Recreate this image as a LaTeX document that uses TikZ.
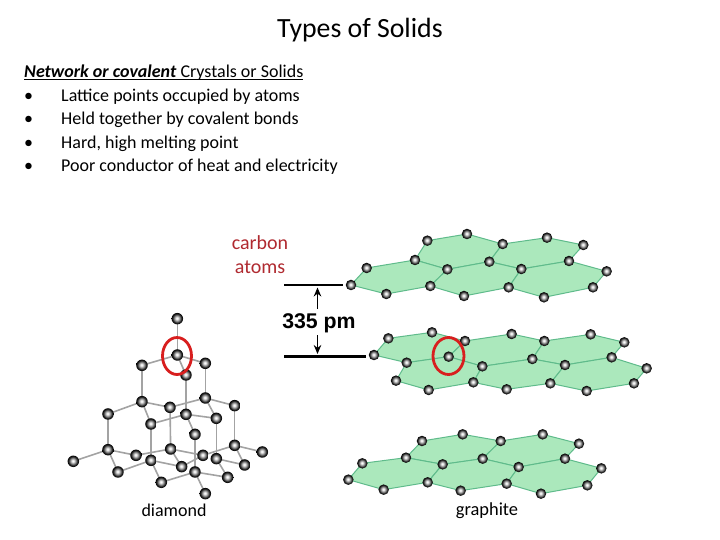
\documentclass[tikz,border=0pt]{standalone}
\usepackage{fontspec}
\usetikzlibrary{arrows.meta,shapes.geometric}
\setmainfont{Carlito}
\newfontfamily\labelfont{Liberation Sans}
\pgfdeclareradialshading{atomshade}{\pgfpoint{-2bp}{2bp}}{
  color(0bp)=(white); color(5bp)=(white!90!black); color(13bp)=(black!50); color(20bp)=(black!90); color(25bp)=(black); color(100bp)=(black)}
\definecolor{sheet}{HTML}{ABE8BC}
\definecolor{sheetedge}{HTML}{5FBB8B}
\definecolor{bondgray}{HTML}{A3A3A3}
\definecolor{ringred}{HTML}{D81E1E}
\definecolor{carbontext}{HTML}{B02A30}
\tikzset{
  x=1pt,y=-1pt,
  atom/.style={circle,inner sep=0pt,minimum size=10.5pt,shading=atomshade},
  datom/.style={atom,minimum size=11.5pt},
  bond/.style={draw=bondgray,line width=1.6pt},
  ring/.style={draw=ringred,line width=2.8pt},
  level/.style={line width=2.8pt},
  gap/.style={line width=1.6pt,-{Stealth[length=9pt,width=7.5pt]}},
  txt/.style={font=\fontsize{18}{18}\selectfont,anchor=base west,inner sep=0pt},
}
\newcommand{\hexcell}[6]{\fill[sheet] (#1)--(#2)--(#3)--(#4)--(#5)--(#6)--cycle;
  \draw[sheetedge,line width=1pt,line join=round] (#1)--(#2)--(#3)--(#4)--(#5)--(#6)--cycle;}
\begin{document}
\begin{tikzpicture}
\useasboundingbox (0,0) rectangle (720,540);
\fill[white] (0,0) rectangle (720,540);
% text
\node[anchor=base,inner sep=0pt,font=\fontsize{27.8}{27.8}\selectfont] (title) at (360,38) {Types of Solids};
\node[txt] (head) at (24,78) {\underline{\smash{\textbf{\textit{Network or covalent}} Crystals or Solids}}};
\node[txt] (b1) at (24,102) {•};
\node[txt] (l1) at (61,102) {Lattice points occupied by atoms};
\node[txt] (b2) at (24,125) {•};
\node[txt] (l2) at (61,125) {Held together by covalent bonds};
\node[txt] (b3) at (24,149) {•};
\node[txt] (l3) at (61,149) {Hard, high melting point};
\node[txt] (b4) at (24,172) {•};
\node[txt] (l4) at (61,172) {Poor conductor of heat and electricity};
\node[anchor=base,inner sep=0pt,text=carbontext,font=\fontsize{20}{20}\selectfont] (carbon) at (260,249) {carbon};
\node[anchor=base,inner sep=0pt,text=carbontext,font=\fontsize{20}{20}\selectfont] (atomsl) at (260,273) {atoms};
\node[anchor=base,inner sep=0pt,font=\fontsize{18}{18}\selectfont] (dlabel) at (174,516) {diamond};
\node[anchor=base,inner sep=0pt,font=\fontsize{18.4}{18.4}\selectfont] (glabel) at (487,515) {graphite};
% graphite top layer
\begin{scope}[shift={(340,220)},x=0.3333pt,y=-0.3333pt]
\path \foreach \n/\p in {a1/{262,62},a2/{381,42},a3/{488,72},a4/{621,53},a5/{730,75},a6/{225,120},a7/{322,148},a8/{448,125},a9/{544,147},a10/{687,123},a11/{800,154},a12/{80,144},a13/{33,195},a14/{139,222},a15/{271,198},a16/{372,228},a17/{506,202},a18/{612,232},a19/{759,202}}{coordinate (\n) at (\p)};
\end{scope}
\hexcell{a1}{a2}{a3}{a8}{a7}{a6}
\hexcell{a3}{a4}{a5}{a10}{a9}{a8}
\hexcell{a12}{a6}{a7}{a15}{a14}{a13}
\hexcell{a7}{a8}{a9}{a17}{a16}{a15}
\hexcell{a9}{a10}{a11}{a19}{a18}{a17}
\foreach \n in {a1,a2,a3,a4,a5,a6,a7,a8,a9,a10,a11,a12,a13,a14,a15,a16,a17,a18,a19}{\node[atom] at (\n) {};}
% graphite middle layer
\begin{scope}[shift={(360,315)},x=0.3333pt,y=-0.3333pt]
\path \foreach \n/\p in {b1/{85,70},b2/{216,52},b3/{315,78},b4/{455,57},b5/{553,78},b6/{692,58},b7/{793,82},b8/{42,120},b9/{140,143},b10/{266,125},b11/{367,154},b12/{517,132},b13/{615,150},b14/{755,127},b15/{860,160},b16/{108,197},b17/{206,225},b18/{340,202},b19/{440,223},b20/{571,205},b21/{680,228},b22/{822,205}}{coordinate (\n) at (\p)};
\end{scope}
\hexcell{b8}{b1}{b2}{b3}{b10}{b9}
\hexcell{b3}{b4}{b5}{b12}{b11}{b10}
\hexcell{b5}{b6}{b7}{b14}{b13}{b12}
\hexcell{b9}{b10}{b11}{b18}{b17}{b16}
\hexcell{b11}{b12}{b13}{b20}{b19}{b18}
\hexcell{b13}{b14}{b15}{b22}{b21}{b20}
\foreach \n in {b1,b2,b3,b4,b5,b6,b7,b8,b9,b10,b11,b12,b13,b14,b15,b16,b17,b18,b19,b20,b21,b22}{\node[atom] at (\n) {};}
% graphite bottom layer
\begin{scope}[shift={(340,420)},x=0.3333pt,y=-0.3333pt]
\path \foreach \n/\p in {c1/{246,63},c2/{368,43},c3/{482,63},c4/{608,43},c5/{717,71},c6/{198,113},c7/{308,133},c8/{428,116},c9/{536,141},c10/{675,116},c11/{784,145},c12/{67,130},c13/{25,179},c14/{131,209},c15/{263,187},c16/{362,212},c17/{500,191},c18/{603,221},c19/{742,196}}{coordinate (\n) at (\p)};
\end{scope}
\hexcell{c1}{c2}{c3}{c8}{c7}{c6}
\hexcell{c3}{c4}{c5}{c10}{c9}{c8}
\hexcell{c12}{c6}{c7}{c15}{c14}{c13}
\hexcell{c7}{c8}{c9}{c17}{c16}{c15}
\hexcell{c9}{c10}{c11}{c19}{c18}{c17}
\foreach \n in {c1,c2,c3,c4,c5,c6,c7,c8,c9,c10,c11,c12,c13,c14,c15,c16,c17,c18,c19}{\node[atom] at (\n) {};}
% spacing marker
\coordinate (topL) at (284,285);
\coordinate (topR) at (343,285);
\coordinate (botL) at (284,356.5);
\coordinate (botR) at (366,356.5);
\draw[level] (topL)--(topR);
\draw[level] (botL)--(botR);
\node[anchor=base,inner sep=0pt,font=\labelfont\bfseries\fontsize{21.3}{21.3}\selectfont] (pm) at (319,328.5) {335 pm};
\coordinate (upS) at (317.5,309);
\coordinate (upE) at (317.5,287.5);
\coordinate (dnS) at (317.5,335);
\coordinate (dnE) at (317.5,354);
\draw[gap] (upS)--(upE);
\draw[gap] (dnS)--(dnE);
% diamond
\begin{scope}[shift={(60,300)},x=0.3333pt,y=-0.3333pt]
\path \foreach \n/\p in {d1/{352,56},d2/{352,165},d3/{246,196},d4/{436,190},d5/{378,225},d6/{246,305},d7/{436,294},d8/{330,322},d9/{524,317},d10/{144,342},d11/{378,343},d12/{469,355},d13/{273,372},d14/{405,403},d15/{144,449},d16/{332,447},d17/{524,436},d18/{228,466},d19/{429,466},d20/{273,481},d21/{469,476},d22/{607,456},d23/{40,484},d24/{365,500},d25/{554,495},d26/{174,516},d27/{405,516},d28/{503,532},d29/{304,547},d30/{436,581}}{coordinate (\n) at (\p)};
\end{scope}
\foreach \u/\v in {d1/d2,d2/d3,d2/d4,d2/d5,d3/d6,d4/d7,d5/d11,d6/d8,d7/d8,d7/d9,d6/d10,d6/d13,d7/d12,d8/d16,d9/d17,d10/d15,d11/d13,d11/d12,d11/d14,d12/d21,d13/d20,d14/d27,d15/d23,d15/d18,d15/d26,d18/d16,d16/d19,d16/d24,d17/d19,d17/d25,d17/d22,d20/d24,d20/d26,d20/d29,d21/d25,d21/d28,d19/d24,d27/d29,d27/d30,d27/d28}{\draw[bond] (\u)--(\v);}
\foreach \n in {d1,d2,d3,d4,d5,d6,d7,d8,d9,d10,d11,d12,d13,d14,d15,d16,d17,d18,d19,d20,d21,d22,d23,d24,d25,d26,d27,d28,d29,d30}{\node[datom] at (\n) {};}
% red rings
\node[ring,ellipse,minimum width=29pt,minimum height=37pt,inner sep=0pt] (r1) at (177,356) {};
\node[ring,ellipse,minimum width=31pt,minimum height=37pt,inner sep=0pt] (r2) at (448.5,356) {};
\end{tikzpicture}
\end{document}
